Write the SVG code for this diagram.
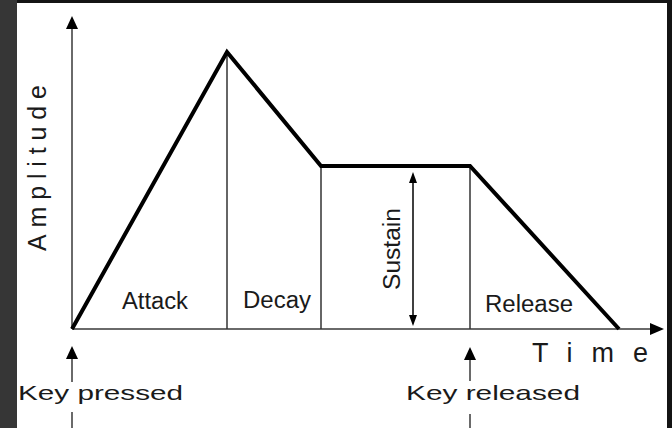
<svg xmlns="http://www.w3.org/2000/svg" width="672" height="428" viewBox="0 0 672 428">
<style>
.bg{fill:#ffffff}
.axis{stroke:#6a6a6a;stroke-width:2;fill:none}
.div{stroke:#333;stroke-width:1.5;fill:none}
.env{stroke:#000;stroke-width:4;fill:none;stroke-linejoin:miter}
.head{fill:#000}
.lbl{font-family:"Liberation Sans",Arial,sans-serif;fill:#1a1a1a}
</style>
<rect x="0" y="0" width="672" height="428" fill="#141414"/>
<rect x="0" y="0" width="17" height="428" fill="#363636"/>
<rect class="bg" x="17" y="3" width="650" height="425"/>
<g id="axes">
<line class="axis" x1="72" y1="329" x2="72" y2="26"/>
<polygon class="head" points="72,16 66,29 78,29"/>
<line class="axis" x1="72" y1="329" x2="652" y2="329"/>
<polygon class="head" points="664,329 650,323 650,335"/>
<text class="lbl" font-size="25" transform="translate(46,251) rotate(-90)" textLength="166" lengthAdjust="spacing">Amplitude</text>
<text class="lbl" font-size="27" x="532" y="362" textLength="116" lengthAdjust="spacing">Time</text>
</g>
<g id="connectors">
<line class="div" x1="227" y1="52" x2="227" y2="329"/>
<line class="div" x1="321" y1="166" x2="321" y2="329"/>
<line class="div" x1="470" y1="166" x2="470" y2="329"/>
<polyline class="env" points="72,329 227,52 321,166 470,166 619,329"/>
</g>
<g id="attack"><text class="lbl" font-size="23" x="122" y="309" textLength="66" lengthAdjust="spacingAndGlyphs">Attack</text></g>
<g id="decay"><text class="lbl" font-size="23" x="243" y="308" textLength="68" lengthAdjust="spacingAndGlyphs">Decay</text></g>
<g id="sustain">
<line stroke="#000" stroke-width="1.5" x1="413" y1="180" x2="413" y2="317"/>
<polygon class="head" points="413,172 409,183 417,183"/>
<polygon class="head" points="413,326 409,315 417,315"/>
<text class="lbl" font-size="23" transform="translate(400,290) rotate(-90)" textLength="82" lengthAdjust="spacingAndGlyphs">Sustain</text>
</g>
<g id="release"><text class="lbl" font-size="23" x="485" y="312" textLength="88" lengthAdjust="spacingAndGlyphs">Release</text></g>
<g id="key-pressed">
<line class="axis" x1="72" y1="356" x2="72" y2="382"/>
<polygon class="head" points="72,346 66,359 78,359"/>
<text class="lbl" font-size="21" x="18" y="400" textLength="165" lengthAdjust="spacingAndGlyphs">Key pressed</text>
<line class="axis" x1="72" y1="412" x2="72" y2="428"/>
</g>
<g id="key-released">
<line class="axis" x1="470" y1="357" x2="470" y2="381"/>
<polygon class="head" points="470,347 464,360 476,360"/>
<text class="lbl" font-size="21" x="406" y="400" textLength="174" lengthAdjust="spacingAndGlyphs">Key released</text>
<line class="axis" x1="470" y1="414" x2="470" y2="428"/>
</g>
</svg>
